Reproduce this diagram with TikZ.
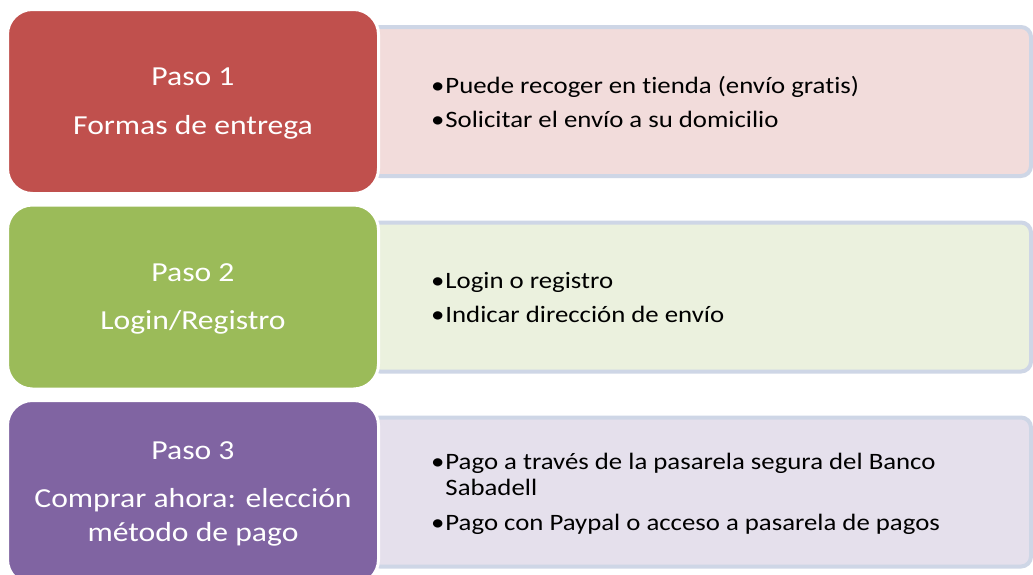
\documentclass[tikz,border=0pt]{standalone}
\usepackage{fontspec}
\setmainfont[Ligatures=NoCommon]{Carlito}
\usepackage{graphicx}
\definecolor{redA}{HTML}{C0504D}
\definecolor{redB}{HTML}{F2DCDB}
\definecolor{greenA}{HTML}{9BBB59}
\definecolor{greenB}{HTML}{EBF1DE}
\definecolor{purpleA}{HTML}{8064A2}
\definecolor{purpleB}{HTML}{E5E0EC}
\definecolor{edgeC}{HTML}{CED6E6}
\newcommand\sx[1]{\scalebox{1.15}[1]{#1}}
\newcommand\sy[1]{\scalebox{1.14}[1]{#1}}
\newcommand\bul{\makebox[12.5pt][l]{•}}
\begin{document}
\begin{tikzpicture}[x=1pt,y=-1pt,
  leftbox/.style={rounded corners=25pt, draw=white, line width=3pt, minimum width=371pt, minimum height=184pt, inner sep=0pt},
  rightbox/.style={rounded corners=10pt, draw=edgeC, line width=4pt, minimum width=661pt, minimum height=149pt, inner sep=0pt},
  lefttext/.style={text=white, font=\fontsize{27.5}{33.5}\selectfont, inner sep=0pt},
  righttext/.style={text=black, font=\fontsize{23.5}{25.5}\selectfont, inner sep=0pt, anchor=west}]
\useasboundingbox (0,0) rectangle (1033,574);
\fill[white] (0,0) rectangle (1033,574);
% right boxes
\node[rightbox, fill=redB] (R1) at (700.5,101.5) {};
\node[rightbox, fill=greenB] (R2) at (700.5,297) {};
\node[rightbox, fill=purpleB] (R3) at (700.5,492) {};
% left boxes
\node[leftbox, fill=redA] (L1) at (193,101.5) {};
\node[leftbox, fill=greenA] (L2) at (193,297) {};
\node[leftbox, fill=purpleA] (L3) at (193,492.5) {};
% left texts
\node[lefttext] (T1) at ([yshift=-2pt]L1.center) {\sx{\begin{tabular}{@{}c@{}}Paso 1\\[15pt]Formas de entrega\end{tabular}}};
\node[lefttext] (T2) at ([yshift=-2pt]L2.center) {\sx{\begin{tabular}{@{}c@{}}Paso 2\\[15pt]Login/Registro\end{tabular}}};
\node[lefttext] (T3) at ([yshift=-1pt]L3.center) {\sx{\begin{tabular}{@{}c@{}}Paso 3\\[15pt]Comprar ahora: elección\\método de pago\end{tabular}}};
% right texts
\node[righttext] (U1) at (431,105) {\sy{\begin{tabular}{@{}l@{}l@{}}\bul&Puede recoger en tienda (envío gratis)\\[8.5pt]\bul&Solicitar el envío a su domicilio\end{tabular}}};
\node[righttext] (U2) at (431,300) {\sy{\begin{tabular}{@{}l@{}l@{}}\bul&Login o registro\\[8.5pt]\bul&Indicar dirección de envío\end{tabular}}};
\node[righttext] (U3) at (431,495) {\sy{\begin{tabular}{@{}l@{}l@{}}\bul&Pago a través de la pasarela segura del Banco\\&Sabadell\\[10pt]\bul&Pago con Paypal o acceso a pasarela de pagos\end{tabular}}};
\end{tikzpicture}
\end{document}
